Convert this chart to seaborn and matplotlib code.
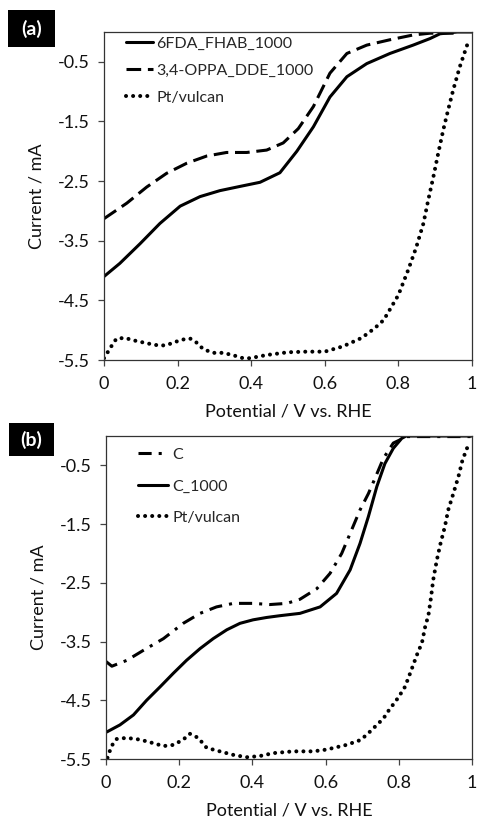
import matplotlib
matplotlib.use("Agg")
import matplotlib.pyplot as plt
import matplotlib.patches as mpatches
import seaborn as sns

# ---------------- data: panel (a) ----------------
a_fhab_x = [0, 0.043, 0.098, 0.152, 0.207, 0.261, 0.315, 0.369, 0.424, 0.478, 0.524,
            0.569, 0.614, 0.66, 0.714, 0.777, 0.84, 0.886, 0.913, 0.96, 1.0]
a_fhab = [-4.10, -3.88, -3.55, -3.21, -2.92, -2.76, -2.66, -2.59, -2.52, -2.36, -2.00,
          -1.59, -1.09, -0.75, -0.53, -0.36, -0.22, -0.11, -0.03, 0.0, 0.0]
a_oppa_x = [0, 0.062, 0.116, 0.17, 0.225, 0.279, 0.333, 0.388, 0.442, 0.487, 0.528,
            0.569, 0.614, 0.66, 0.714, 0.777, 0.84, 0.886, 0.95]
a_oppa = [-3.13, -2.87, -2.60, -2.37, -2.20, -2.08, -2.02, -2.02, -1.98, -1.86, -1.62,
          -1.25, -0.69, -0.36, -0.22, -0.13, -0.05, -0.02, -0.02]
a_pt_x = [0.0, 0.02, 0.034, 0.057, 0.08, 0.102, 0.125, 0.152, 0.17, 0.188, 0.211,
          0.234, 0.252, 0.27, 0.297, 0.324, 0.351, 0.378, 0.4, 0.42, 0.45, 0.5,
          0.55, 0.6, 0.65, 0.70, 0.735, 0.76, 0.78, 0.80, 0.826, 0.848, 0.868,
          0.881, 0.895, 0.908, 0.922, 0.935, 0.949, 0.967, 0.99]
a_pt = [-5.47, -5.27, -5.14, -5.13, -5.17, -5.20, -5.23, -5.26, -5.25, -5.21, -5.16,
        -5.14, -5.21, -5.32, -5.38, -5.38, -5.42, -5.47, -5.47, -5.44, -5.41, -5.37,
        -5.36, -5.36, -5.27, -5.13, -4.97, -4.83, -4.62, -4.41, -4.00, -3.62, -3.21,
        -2.82, -2.43, -2.04, -1.64, -1.31, -0.97, -0.58, -0.16]

# ---------------- data: panel (b) ----------------
b_c_x = [0.0, 0.016, 0.057, 0.102, 0.157, 0.211, 0.257, 0.302, 0.348, 0.402, 0.448,
         0.494, 0.53, 0.576, 0.612, 0.644, 0.667, 0.694, 0.717, 0.735, 0.758, 0.785,
         0.822, 0.9, 1.0]
b_c = [-3.84, -3.92, -3.82, -3.65, -3.45, -3.19, -3.02, -2.91, -2.85, -2.85, -2.87,
       -2.85, -2.78, -2.60, -2.34, -2.00, -1.66, -1.26, -0.98, -0.72, -0.38, -0.12,
       -0.01, -0.01, -0.01]
b_c1000_x = [0.002, 0.038, 0.075, 0.111, 0.148, 0.184, 0.22, 0.257, 0.293, 0.33, 0.366,
             0.402, 0.439, 0.475, 0.53, 0.585, 0.63, 0.667, 0.694, 0.717, 0.74, 0.762,
             0.785, 0.808, 0.82, 0.9, 1.0]
b_c1000 = [-5.04, -4.92, -4.75, -4.50, -4.27, -4.04, -3.82, -3.62, -3.45, -3.30, -3.19,
           -3.13, -3.09, -3.06, -3.02, -2.91, -2.68, -2.28, -1.83, -1.37, -0.86, -0.47,
           -0.21, -0.04, 0.0, 0.0, 0.0]
b_pt_x = [0.004, 0.015, 0.029, 0.056, 0.093, 0.129, 0.157, 0.184, 0.211, 0.229, 0.252,
          0.275, 0.311, 0.348, 0.384, 0.42, 0.457, 0.511, 0.566, 0.602, 0.657, 0.694,
          0.712, 0.735, 0.758, 0.776, 0.79, 0.803, 0.817, 0.831, 0.844, 0.853, 0.863,
          0.872, 0.881, 0.888, 0.894, 0.904, 0.914, 0.926, 0.935, 0.949, 0.963, 0.974,
          0.99]
b_pt = [-5.48, -5.28, -5.16, -5.14, -5.17, -5.23, -5.28, -5.26, -5.17, -5.07, -5.14,
        -5.31, -5.37, -5.43, -5.47, -5.45, -5.40, -5.37, -5.37, -5.34, -5.26, -5.18,
        -5.09, -4.95, -4.81, -4.64, -4.53, -4.41, -4.27, -4.04, -3.82, -3.67, -3.53,
        -3.25, -3.05, -2.75, -2.45, -2.11, -1.83, -1.54, -1.26, -0.98, -0.69, -0.41,
        -0.15]

x_ticks = [0, 0.2, 0.4, 0.6, 0.8, 1.0]
x_ticklabels = ["0", "0.2", "0.4", "0.6", "0.8", "1"]
y_ticks = [-5.5, -4.5, -3.5, -2.5, -1.5, -0.5]
y_ticklabels = ["-5.5", "-4.5", "-3.5", "-2.5", "-1.5", "-0.5"]

sns.set_style("ticks")
plt.rcParams["font.family"] = ["Lato", "DejaVu Sans"]
plt.rcParams["xtick.direction"] = "out"
plt.rcParams["ytick.direction"] = "out"

fig = plt.figure(figsize=(4.79, 8.23), dpi=100)
ax_a = fig.add_axes([104 / 479, 1 - 360 / 823, 368 / 479, 328 / 823])
ax_b = fig.add_axes([106 / 479, 1 - 759 / 823, 366 / 479, 323 / 823])

LW = 2.2
solid = dict(color="black", linewidth=LW, linestyle="-")
dashed = dict(color="black", linewidth=LW, linestyle=(0, (4.8, 2.2)))
dashdot = dict(color="black", linewidth=LW, linestyle=(0, (4.3, 2.3, 1.0, 2.3)))
dotted = dict(color="black", linewidth=2.9, linestyle=(0, (0.01, 1.75)),
              dash_capstyle="round")

sns.lineplot(x=a_fhab_x, y=a_fhab, ax=ax_a, estimator=None, sort=False,
             label="6FDA_FHAB_1000", **solid)
sns.lineplot(x=a_oppa_x, y=a_oppa, ax=ax_a, estimator=None, sort=False,
             label="3,4-OPPA_DDE_1000", **dashed)
sns.lineplot(x=a_pt_x, y=a_pt, ax=ax_a, estimator=None, sort=False,
             label="Pt/vulcan", **dotted)

sns.lineplot(x=b_c_x, y=b_c, ax=ax_b, estimator=None, sort=False,
             label="C", **dashdot)
sns.lineplot(x=b_c1000_x, y=b_c1000, ax=ax_b, estimator=None, sort=False,
             label="C_1000", **solid)
sns.lineplot(x=b_pt_x, y=b_pt, ax=ax_b, estimator=None, sort=False,
             label="Pt/vulcan", **dotted)

leg_opts = {
    ax_a: dict(bbox_to_anchor=(0.042, 1.005), handlelength=1.7, handletextpad=0.2,
               labelspacing=0.8),
    ax_b: dict(bbox_to_anchor=(0.07, 0.983), handlelength=1.9, handletextpad=0.25,
               labelspacing=1.08),
}

for ax in (ax_a, ax_b):
    ax.set_xlim(0, 1)
    ax.set_ylim(-5.5, 0)
    ax.set_xticks(x_ticks)
    ax.set_xticklabels(x_ticklabels)
    ax.set_yticks(y_ticks)
    ax.set_yticklabels(y_ticklabels)
    ax.tick_params(axis="both", labelsize=13, length=4.5, width=0.9,
                   color="#444444", labelcolor="#111111", pad=6)
    ax.tick_params(axis="x", pad=7)
    for sp in ax.spines.values():
        sp.set_visible(True)
        sp.set_linewidth(0.9)
        sp.set_color("#333333")
    ax.set_xlabel("Potential / V vs. RHE", fontsize=13, labelpad=8, color="#111111")
    ax.set_ylabel("Current / mA", fontsize=13, labelpad=9, color="#111111")
    ax.grid(False)
    ax.legend(loc="upper left", frameon=False, fontsize=11.5, borderaxespad=0.0,
              **leg_opts[ax])

# panel label boxes
for (x0, y0, x1, y1, lab) in [(8, 10, 55, 47, "(a)"), (9, 423, 54, 456, "(b)")]:
    rect = mpatches.Rectangle((x0 / 479, 1 - y1 / 823), (x1 - x0) / 479,
                              (y1 - y0) / 823, transform=fig.transFigure,
                              facecolor="black", edgecolor="none")
    fig.patches.append(rect)
    fig.text((x0 + x1) / 2 / 479, 1 - (y0 + y1) / 2 / 823, lab, color="white",
             fontsize=14, fontweight="bold", ha="center", va="center")

fig.savefig("out.png", dpi=100, facecolor="white")
